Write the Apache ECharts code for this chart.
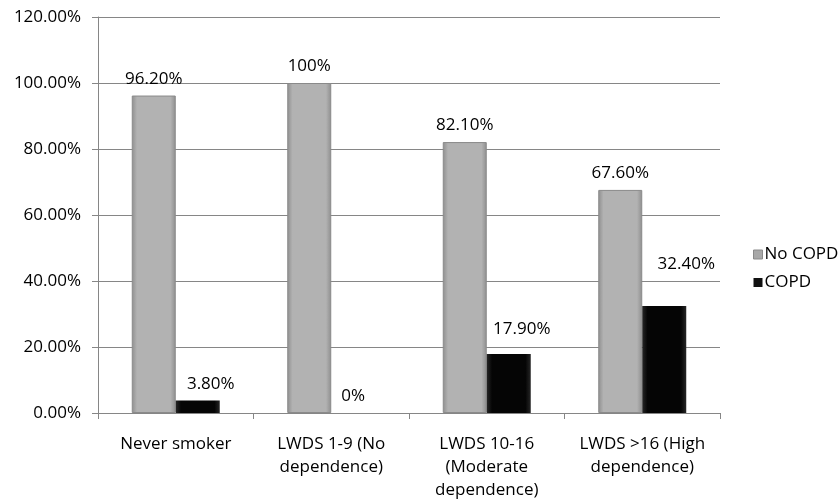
<!DOCTYPE html>
<html>
<head>
<meta charset="utf-8">
<script src="https://cdn.jsdelivr.net/npm/echarts@6/dist/echarts.min.js"></script>
<style>
  html, body { margin: 0; padding: 0; background: #fff; }
  #chart { width: 840px; height: 502px; }
</style>
</head>
<body>
<div id="chart"></div>
<script>
// Smoking dependence groups and COPD share (%)
const categories = [
  'Never smoker',
  'LWDS 1-9 (No\ndependence)',
  'LWDS 10-16\n(Moderate\ndependence)',
  'LWDS >16 (High\ndependence)'
];
const seriesNames = ['No COPD', 'COPD'];
const noCopd = [96.2, 100, 82.1, 67.6];
const copd = [3.8, 0, 17.9, 32.4];
const noCopdLabels = ['96.20%', '100%', '82.10%', '67.60%'];
const copdLabels = ['3.80%', '0%', '17.90%', '32.40%'];
const yTicks = [0, 20, 40, 60, 80, 100, 120];

const FONT = 'Open Sans';
const FS = 17;
const GRAY_FILL = new echarts.graphic.LinearGradient(0, 0, 1, 0, [
  { offset: 0, color: '#8e8e8e' },
  { offset: 0.12, color: '#b2b2b2' },
  { offset: 0.88, color: '#b2b2b2' },
  { offset: 1, color: '#8e8e8e' }
]);
const BLACK_FILL = new echarts.graphic.LinearGradient(0, 0, 1, 0, [
  { offset: 0, color: '#262626' },
  { offset: 0.12, color: '#050505' },
  { offset: 0.88, color: '#050505' },
  { offset: 1, color: '#262626' }
]);

// small nudges for labels that sit beside the COPD bars
const copdLabelOffsets = [[13, 0], [0, 0], [13, -8], [22, -25]];

function labelled(values, texts, offsets) {
  return values.map((v, i) => ({
    value: v,
    label: { formatter: texts[i], offset: offsets ? offsets[i] : [0, 0] }
  }));
}

const chart = echarts.init(document.getElementById('chart'), null, { renderer: 'canvas' });
chart.setOption({
  animation: false,
  textStyle: { fontFamily: FONT },
  grid: { left: 98, right: 120, top: 17, bottom: 89 },
  legend: {
    orient: 'vertical',
    left: 748,
    top: 241,
    icon: 'rect',
    itemWidth: 9,
    itemHeight: 9,
    itemGap: 11,
    textStyle: { fontFamily: FONT, fontSize: FS, color: '#000', padding: [0, 0, 0, -3] },
    data: [
      { name: seriesNames[0], itemStyle: { color: '#a8a8a8', borderColor: '#8a8a8a', borderWidth: 1 } },
      { name: seriesNames[1], itemStyle: { color: '#111111', borderWidth: 0 } }
    ]
  },
  xAxis: {
    type: 'category',
    data: categories,
    axisLine: { lineStyle: { color: '#868686' } },
    axisTick: { show: true, length: 6, interval: 0, lineStyle: { color: '#868686' } },
    axisLabel: {
      interval: 0,
      margin: 20,
      fontFamily: FONT,
      fontSize: FS,
      lineHeight: 23,
      color: '#000'
    }
  },
  yAxis: {
    type: 'value',
    min: 0,
    max: 120,
    interval: 20,
    axisLine: { show: true, lineStyle: { color: '#868686' } },
    axisTick: { show: true, length: 6, lineStyle: { color: '#868686' } },
    splitLine: { lineStyle: { color: '#868686' } },
    axisLabel: {
      margin: 17,
      fontFamily: FONT,
      fontSize: FS,
      color: '#000',
      formatter: v => yTicks.includes(v) ? v.toFixed(2) + '%' : ''
    }
  },
  series: [
    {
      name: seriesNames[0],
      type: 'bar',
      barWidth: 44,
      barGap: '0%',
      itemStyle: { color: GRAY_FILL, borderColor: '#8a8a8a', borderWidth: 1 },
      label: { show: true, position: 'top', distance: 8, fontFamily: FONT, fontSize: FS, color: '#000' },
      data: labelled(noCopd, noCopdLabels)
    },
    {
      name: seriesNames[1],
      type: 'bar',
      barWidth: 44,
      barGap: '0%',
      itemStyle: { color: BLACK_FILL, borderWidth: 0 },
      label: { show: true, position: 'top', distance: 8, fontFamily: FONT, fontSize: FS, color: '#000' },
      data: labelled(copd, copdLabels, copdLabelOffsets)
    }
  ]
});
</script>
</body>
</html>
